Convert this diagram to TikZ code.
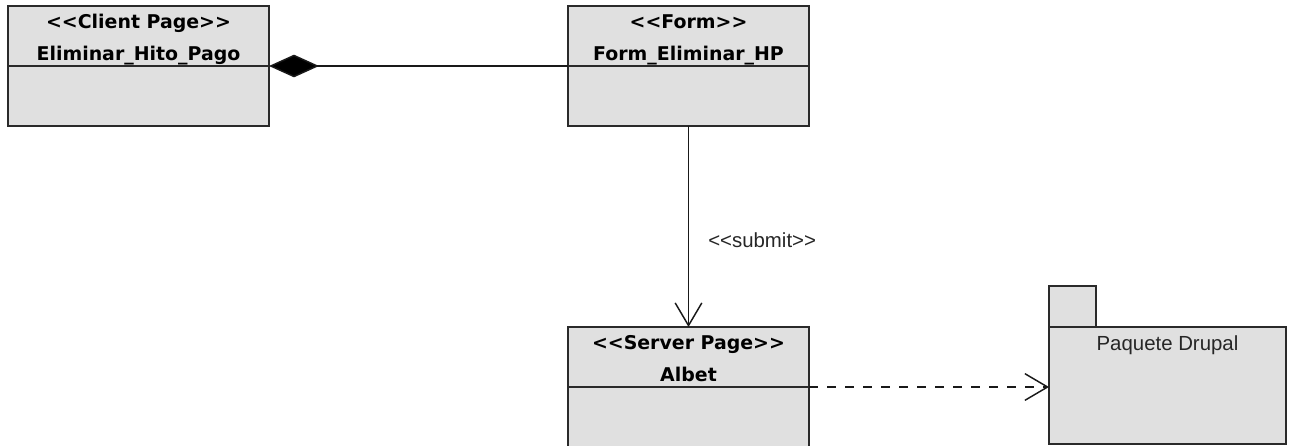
\documentclass[tikz,border=0pt]{standalone}
\usepackage{fontspec}
\setmainfont{Liberation Sans}
\newfontfamily\namefont{DejaVu Sans}
\usetikzlibrary{arrows.meta}
\definecolor{boxfill}{HTML}{E0E0E0}
\definecolor{boxline}{HTML}{2A2A2A}
\tikzset{
  compart/.style={draw=boxline, fill=boxfill, line width=1.5pt, rectangle,
    inner sep=0pt, outer sep=0pt, anchor=north west},
  title/.style={font=\namefont\bfseries\fontsize{14.2}{16}\selectfont,
    anchor=base, inner sep=0pt},
  plaintext/.style={font=\fontsize{15.3}{18}\selectfont, anchor=base, inner sep=0pt, text=black!85},
  link/.style={line width=1.1pt, draw=black!90},
  openhead/.style={-{Straight Barb[length=17pt,width=20pt,line width=1.1pt]}},
}
\begin{document}
\begin{tikzpicture}[x=0.75pt,y=-0.75pt]
\useasboundingbox (0,0) rectangle (1289,446);
\clip (0,0) rectangle (1289,446);

% client page
\node[compart, minimum width=195.75pt, minimum height=45pt] (clientTop) at (8,6) {};
\node[compart, minimum width=195.75pt, minimum height=45pt] (clientBot) at (clientTop.south west) {};
\node[title] (clientStereo) at ([yshift=-16.5pt]clientTop.north) {<<Client Page>>};
\node[title] (clientName) at ([yshift=-40.5pt]clientTop.north) {Eliminar\_Hito\_Pago};

% form
\node[compart, minimum width=180.75pt, minimum height=45pt] (formTop) at (568,6) {};
\node[compart, minimum width=180.75pt, minimum height=45pt] (formBot) at (formTop.south west) {};
\node[title] (formStereo) at ([yshift=-16.5pt]formTop.north) {<<Form>>};
\node[title] (formName) at ([yshift=-40.5pt]formTop.north) {Form\_Eliminar\_HP};

% server page
\node[compart, minimum width=180.75pt, minimum height=45pt] (serverTop) at (568,327) {};
\node[compart, minimum width=180.75pt, minimum height=60pt] (serverBot) at (serverTop.south west) {};
\node[title] (serverStereo) at ([yshift=-16.5pt]serverTop.north) {<<Server Page>>};
\node[title] (serverName) at ([yshift=-40.5pt]serverTop.north) {Albet};

% package
\node[compart, minimum width=35.25pt, minimum height=30.75pt] (pkgTab) at (1049,286) {};
\node[compart, minimum width=177.75pt, minimum height=87.75pt] (pkgBody) at (1049,327) {};
\node[plaintext] (pkgName) at ([yshift=-17.25pt]pkgBody.north) {Paquete Drupal};

% connectors
\draw[link, {Diamond[length=37.5pt,width=17pt,fill=black]}-]
  (clientTop.south east) -- (formTop.south west);
\draw[link, openhead] (formBot.south) -- (serverTop.north);
% kerns keep the angle brackets from joining into guillemets
\node[plaintext, anchor=base west] (submitLbl) at (708,247) {<\kern0pt<submit>\kern0pt>};
\draw[link, dashed, dash pattern=on 6.5pt off 7pt, openhead]
  (serverTop.south east) -- (serverTop.south east -| pkgBody.west);
\end{tikzpicture}
\end{document}
